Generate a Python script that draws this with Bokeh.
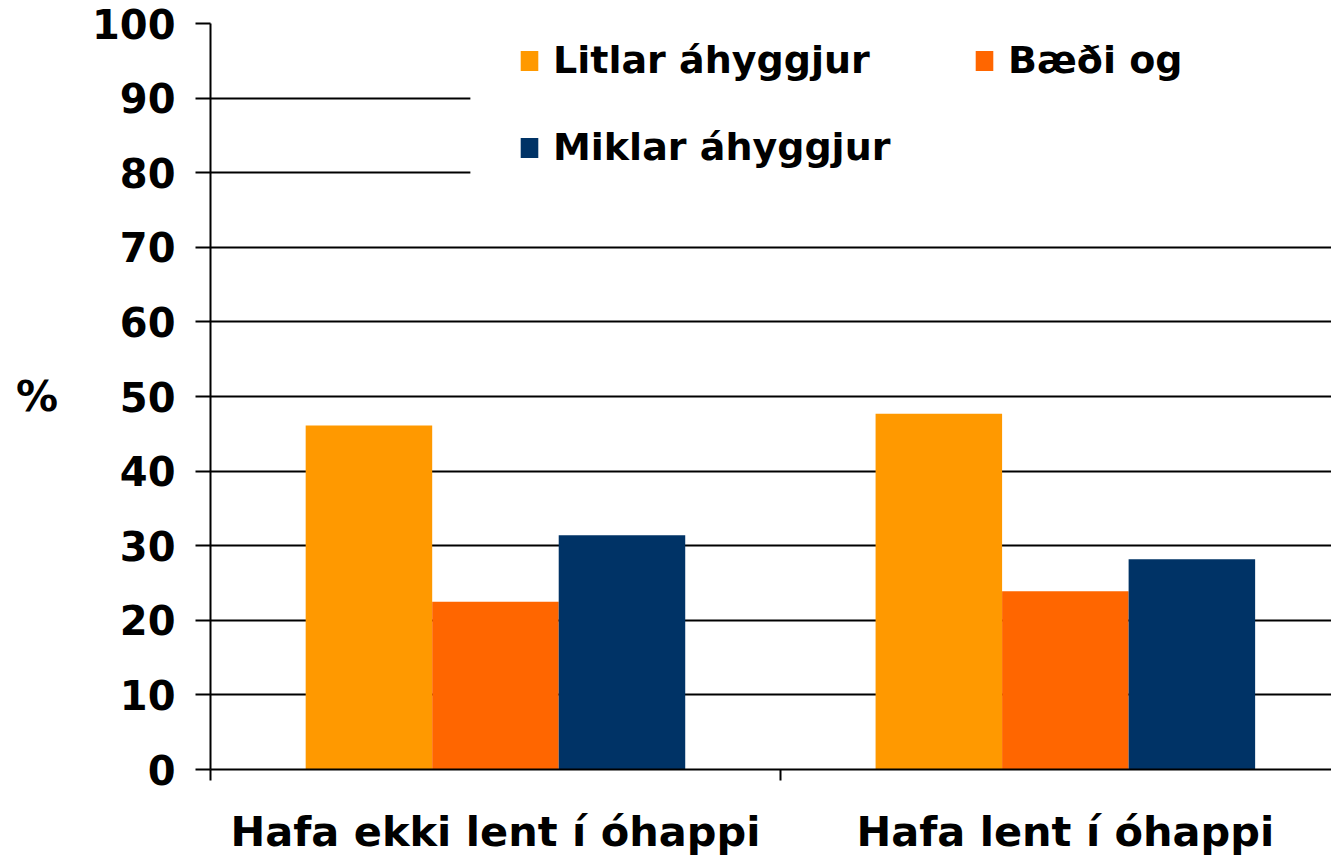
from bokeh.plotting import figure
from bokeh.models import (Range1d, FixedTicker, Legend, LegendItem,
                          BoxAnnotation, ColumnDataSource)
from bokeh.embed import file_html
from bokeh.resources import INLINE

# ---- data ----
categories = ["Hafa ekki lent í óhappi", "Hafa lent í óhappi"]
series_names = ["Litlar áhyggjur", "Bæði og", "Miklar áhyggjur"]
litlar = [46.1, 47.7]
baedi = [22.5, 23.9]
miklar = [31.4, 28.2]
colors = ["#FF9900", "#FF6600", "#003366"]
y_ticks = [0, 10, 20, 30, 40, 50, 60, 70, 80, 90, 100]

FONT = "DejaVu Sans"

p = figure(width=1331, height=858, output_backend="svg", toolbar_location=None,
           x_range=Range1d(0, 1.967), y_range=Range1d(0, 100),
           min_border_left=210, min_border_top=23, min_border_right=0,
           min_border_bottom=80)
p.outline_line_color = None
p.background_fill_color = "white"
p.border_fill_color = "white"

centers = [i + 0.5 for i in range(len(categories))]
bw = 0.222
offsets = [-bw, 0.0, bw]
renderers = []
for vals, off, col in zip([litlar, baedi, miklar], offsets, colors):
    src = ColumnDataSource(dict(x=[c + off for c in centers], top=vals))
    r = p.vbar(x="x", top="top", width=bw, bottom=0, source=src,
               fill_color=col, line_color=None)
    renderers.append(r)

# y axis
p.yaxis.ticker = FixedTicker(ticks=y_ticks)
p.yaxis.axis_line_color = "black"
p.yaxis.axis_line_width = 2
p.yaxis.major_tick_line_color = "black"
p.yaxis.major_tick_line_width = 2
p.yaxis.major_tick_out = 15
p.yaxis.major_tick_in = 0
p.yaxis.minor_tick_line_color = None
p.yaxis.major_label_text_font = FONT
p.yaxis.major_label_text_font_style = "bold"
p.yaxis.major_label_text_font_size = "40px"
p.yaxis.major_label_text_color = "black"
p.yaxis.major_label_standoff = 20
p.yaxis.axis_label = "%"
p.yaxis.axis_label_orientation = "horizontal"
p.yaxis.axis_label_text_font = FONT
p.yaxis.axis_label_text_font_style = "bold"
p.yaxis.axis_label_text_font_size = "42px"
p.yaxis.axis_label_text_color = "black"
p.yaxis.axis_label_standoff = 31

# gridlines
p.ygrid.ticker = FixedTicker(ticks=y_ticks)
p.ygrid.grid_line_color = "black"
p.ygrid.grid_line_width = 2
p.xgrid.grid_line_color = None

# x axis: category labels at centers, tick marks (minor) at boundaries
p.xaxis.ticker = FixedTicker(ticks=centers, minor_ticks=[0, 1])
p.xaxis.major_label_overrides = {c: n for c, n in zip(centers, categories)}
p.xaxis.axis_line_color = "black"
p.xaxis.axis_line_width = 2
p.xaxis.major_tick_line_color = None
p.xaxis.major_tick_out = 0
p.xaxis.major_tick_in = 0
p.xaxis.minor_tick_line_color = "black"
p.xaxis.minor_tick_line_width = 2
p.xaxis.minor_tick_out = 11
p.xaxis.minor_tick_in = 0
p.xaxis.major_label_text_font = FONT
p.xaxis.major_label_text_font_style = "bold"
p.xaxis.major_label_text_font_size = "41.5px"
p.xaxis.major_label_text_color = "black"
p.xaxis.major_label_standoff = 26

# white legend background area
p.add_layout(BoxAnnotation(left=0.456, right=3, bottom=78.3, top=102,
                           fill_color="white", fill_alpha=1.0, line_color=None))

def make_legend(items, loc):
    lg = Legend(items=items, location=loc, orientation="vertical",
                padding=0, margin=0, spacing=43,
                glyph_width=22, glyph_height=25, label_standoff=13,
                label_text_font=FONT, label_text_font_style="bold",
                label_text_font_size="38px", label_text_color="black",
                border_line_color=None, background_fill_alpha=0)
    return lg

legA = make_legend([LegendItem(label=series_names[0], renderers=[renderers[0]]),
                    LegendItem(label=series_names[2], renderers=[renderers[2]])],
                   (308, 600))
legB = make_legend([LegendItem(label=series_names[1], renderers=[renderers[1]])],
                   (763, 687))
p.add_layout(legA)
p.add_layout(legB)

open("out.html", "w").write(file_html(p, INLINE))
